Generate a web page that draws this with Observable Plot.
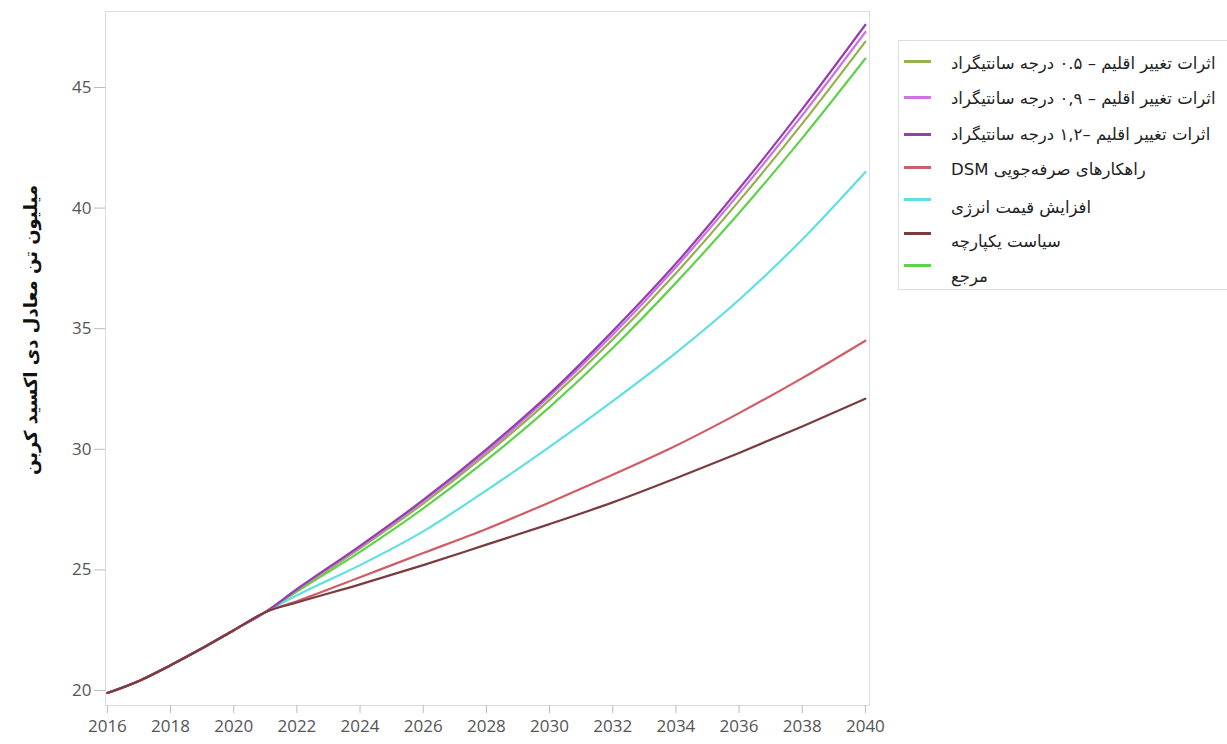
<!DOCTYPE html>
<html>
<head>
<meta charset="utf-8">
<script src="https://cdn.jsdelivr.net/npm/d3@7"></script>
<script src="https://cdn.jsdelivr.net/npm/@observablehq/plot@0.6"></script>
<style>
  body { margin: 0; background: #fff; }
  #wrap { position: relative; width: 1227px; height: 744px; overflow: hidden; background:#fff; }
  #ylabel { position: absolute; left: 30px; top: 330px; transform: translate(-50%, -50%) rotate(-90deg);
            font-family: "DejaVu Sans", sans-serif; font-weight: bold; font-size: 18px; color: #111;
            white-space: nowrap; direction: rtl; }
  #legend { position: absolute; left: 898px; top: 40px; width: 360px; height: 248px; border: 1px solid #dcdcdc; }
  .sw { position: absolute; left: 5px; width: 27px; height: 3px; }
  .lt { position: absolute; left: 52px; direction: rtl; font-family: "DejaVu Sans", sans-serif; font-size: 16.5px;
        color: #222; white-space: nowrap; transform: translateY(-50%); }
</style>
</head>
<body>
<div id="wrap">
  <div id="chart"></div>
  <div id="ylabel"></div>
  <div id="legend"></div>
</div>
<script>
// ---- data ----
const trunkYears = [2016, 2017, 2018, 2019, 2020, 2021];
const trunkValues = [19.9, 20.4, 21.05, 21.75, 22.5, 23.25];
const scenarioYears = [2022, 2024, 2026, 2028, 2030, 2032, 2034, 2036, 2038, 2040];

const seriesNames = [
  "اثرات تغییر اقلیم – ۰.۵ درجه سانتیگراد",
  "اثرات تغییر اقلیم – ۰,۹ درجه سانتیگراد",
  "اثرات تغییر اقلیم –۱,۲ درجه سانتیگراد",
  "راهکارهای صرفه‌جویی DSM",
  "افزایش قیمت انرژی",
  "سیاست یکپارچه",
  "مرجع"
];
const climate05 = [24.15, 25.9, 27.75, 29.8, 32.05, 34.55, 37.3, 40.3, 43.5, 46.9];
const climate09 = [24.2, 25.95, 27.85, 29.9, 32.2, 34.75, 37.55, 40.6, 43.85, 47.3];
const climate12 = [24.2, 26.0, 27.9, 30.0, 32.3, 34.9, 37.7, 40.8, 44.1, 47.6];
const dsm       = [23.7, 24.7, 25.7, 26.7, 27.8, 28.95, 30.15, 31.5, 32.95, 34.5];
const energyPrice = [23.95, 25.2, 26.6, 28.3, 30.1, 32.0, 34.0, 36.2, 38.7, 41.5];
const integrated  = [23.65, 24.4, 25.2, 26.05, 26.9, 27.8, 28.8, 29.85, 30.95, 32.1];
const reference   = [24.1, 25.75, 27.55, 29.55, 31.75, 34.2, 36.9, 39.8, 42.9, 46.2];

const seriesColors = ["#93b24c", "#cf72e6", "#9440ab", "#d05c66", "#5ee0e2", "#7a3c3e", "#5fd24c"];
const xTicks = [2016, 2018, 2020, 2022, 2024, 2026, 2028, 2030, 2032, 2034, 2036, 2038, 2040];
const yTicks = [20, 25, 30, 35, 40, 45];
const yLabel = "میلیون تن معادل دی اکسید کربن";

// ---- build ----
const seriesValues = [climate05, climate09, climate12, dsm, energyPrice, integrated, reference];
const rows = seriesNames.map((name, i) => [
  ...trunkYears.map((y, j) => ({series: name, year: y, value: trunkValues[j]})),
  ...scenarioYears.map((y, j) => ({series: name, year: y, value: seriesValues[i][j]}))
]);
const drawOrder = [6, 4, 0, 1, 2, 3, 5];

const chart = Plot.plot({
  width: 1227,
  height: 744,
  marginLeft: 105,
  marginRight: 358,
  marginTop: 11,
  marginBottom: 39,
  x: {domain: [2015.94, 2040.13]},
  y: {domain: [19.38, 48.15]},
  style: {fontFamily: "'Open Sans', sans-serif", fontSize: "17px", color: "#555", background: "#fff"},
  marks: [
    Plot.frame({stroke: "#dcdcdc"}),
    Plot.axisX({ticks: xTicks, tickSize: 8, tickPadding: 6, tickFormat: d => String(d), stroke: "#bbb", label: null}),
    Plot.axisY({ticks: yTicks, tickSize: 11, tickPadding: 3, stroke: "#bbb", label: null}),
    ...drawOrder.map(i => Plot.line(rows[i], {x: "year", y: "value", stroke: seriesColors[i], strokeWidth: 2.2, curve: "monotone-x"}))
  ]
});
document.getElementById("chart").appendChild(chart);
document.getElementById("ylabel").textContent = yLabel;

const swY = [20, 56, 93, 126, 158, 192, 224];
const txtY = [22, 57, 93, 128, 166, 200, 235];
const legend = document.getElementById("legend");
seriesNames.forEach((name, i) => {
  const sw = document.createElement("div");
  sw.className = "sw"; sw.style.top = (swY[i] - 1) + "px"; sw.style.background = seriesColors[i];
  legend.appendChild(sw);
  const t = document.createElement("div");
  t.className = "lt"; t.style.top = txtY[i] + "px"; t.textContent = name;
  legend.appendChild(t);
});
</script>
</body>
</html>
